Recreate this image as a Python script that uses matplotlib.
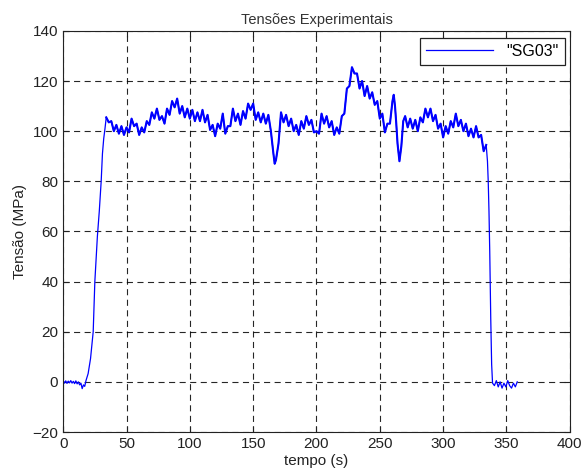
import matplotlib
matplotlib.use('Agg')

import matplotlib.pyplot as plt

# Sinal do extensometro SG03
tempo_ini = [0, 1, 2, 3, 4, 5, 6, 7, 8, 9, 10, 11, 12, 13, 14, 15, 16, 17, 18,
             19.7, 21.6, 23.7, 25, 27, 28.5, 30, 31, 32, 33]
tensao_ini = [0.5, -0.5, 0.4, -0.6, 0.3, -0.4, 0.5, -0.5, 0.2, -0.7, 0.4, -0.8, 0, -1.2,
              -0.5, -2.7, -1.2, -1.8, 0.5,
              3.3, 9.3, 20, 40, 58, 68, 80, 91, 97, 101]

tempo_plat = [34, 36, 38, 40, 42, 44, 46, 48, 50, 52, 54, 56, 58, 60, 62, 64, 66, 68, 70,
              72, 74, 76, 78, 80, 82, 84, 86, 88, 90, 92, 94, 96, 98, 100, 102, 104, 106,
              108, 110, 112, 114, 116, 118, 120, 122, 124, 126, 128, 130, 132, 134, 136,
              138, 140, 142, 144, 146, 148, 150, 152, 154, 156, 158, 160, 162, 164, 166,
              167, 168, 170, 172, 174, 176, 178, 180, 182, 184, 186, 188, 190, 192, 194,
              196, 198, 200, 202, 204, 206, 208, 210, 212, 214, 216, 218, 220, 222, 224,
              226, 228, 230, 232, 234, 236, 238, 240, 242, 244, 246, 248, 250, 252, 254,
              256, 258, 260, 261, 262, 263, 264, 265.5, 267, 268.5, 270, 272, 274, 276,
              278, 280, 282, 284, 286, 288, 290, 292, 294, 296, 298, 300, 302, 304, 306,
              308, 310, 312, 314, 316, 318, 320, 322, 324, 326, 328, 330, 332, 334]
tensao_plat = [105.5, 103.5, 104, 100, 102.5, 99, 102, 98.5, 101.5, 99.5, 105, 102, 103,
               98.5, 101.5, 99.5, 104, 102.5, 107.5, 105, 109, 104.5, 106, 103, 109, 106.5,
               112, 109.5, 113, 107, 110, 105.5, 109, 105, 108.5, 104, 107.5, 104, 108.5,
               103.5, 106.5, 100.5, 102.5, 98, 103, 101, 107, 99, 102, 102, 109, 104, 107,
               102.5, 108, 105, 111, 108.5, 111, 104.5, 107.5, 103.5, 107, 103, 106.5, 100,
               91, 87, 88.5, 95, 107.5, 103.5, 106.5, 102, 105, 100, 102.5, 98.5, 104, 101,
               106, 102.5, 104.5, 99.5, 100, 99, 107, 103, 106, 101.5, 104, 98.5, 101.5, 99,
               106, 107, 117, 118, 125.5, 123, 123, 117, 120, 114, 118, 113, 115.5, 110.5,
               112, 105, 107, 99.5, 103, 103, 112, 114.5, 110, 103, 95, 88, 94, 104, 106,
               101.5, 105, 101, 104.5, 100, 105.5, 103.5, 109, 105.5, 109, 104, 106.5, 101,
               103, 97.5, 102, 99, 104, 101.5, 107, 102, 104.5, 100, 103, 98, 101, 97.5, 102,
               97.5, 98.5, 92, 94.5]

tempo_fim = [335, 335.6, 336.2, 336.8, 337.6, 338.3, 339, 340.5, 342, 343.5, 345, 346.5,
             348, 349.5, 351, 352.5, 354, 355.5, 357, 358.5]
tensao_fim = [88, 80, 68, 52, 25, 7, -0.5, -1.5, 0.5, -2, 0, -2.5, -0.5, -2, 0.5, -1.5,
              -2.5, -0.5, -2, 0]

tempo = tempo_ini + tempo_plat + tempo_fim
tensao = tensao_ini + tensao_plat + tensao_fim

plt.rcParams['font.family'] = ['Liberation Sans', 'DejaVu Sans']

fig = plt.figure(figsize=(5.85, 4.75), dpi=100)
ax = fig.add_axes([0.108, 0.0905, 0.866, 0.8445])

ax.plot(tempo, tensao, color='#0000ff', linewidth=0.9, label='"SG03"')
# trecho ruidoso: traço mais grosso, como a faixa do original
ax.plot(tempo_plat, tensao_plat, color='#0000ff', linewidth=1.5)

ax.set_xlim(0, 400)
ax.set_ylim(-20, 140)
ax.set_xticks(range(0, 401, 50))
ax.set_yticks(range(-20, 141, 20))
ax.grid(True, color='black', linestyle=(0, (5.5, 4)), linewidth=0.8, alpha=0.85)
ax.tick_params(direction='in', top=True, right=True, labelsize=11, colors='#222222',
               length=4)
for s in ax.spines.values():
    s.set_color('#222222')
    s.set_linewidth(0.8)

ax.set_title('Tensões Experimentais', fontsize=10.5, color='#333333', pad=5)
ax.set_xlabel('tempo (s)', fontsize=11, color='#222222', labelpad=2)
ax.set_ylabel('Tensão (MPa)', fontsize=11, color='#222222', labelpad=4)

leg = ax.legend(loc='upper right', bbox_to_anchor=(0.99, 0.983), borderaxespad=0,
                fancybox=False, edgecolor='#222222', framealpha=1, fontsize=11.5,
                handlelength=4.2)
leg.get_frame().set_linewidth(0.9)

plt.savefig('out.png', dpi=100)
